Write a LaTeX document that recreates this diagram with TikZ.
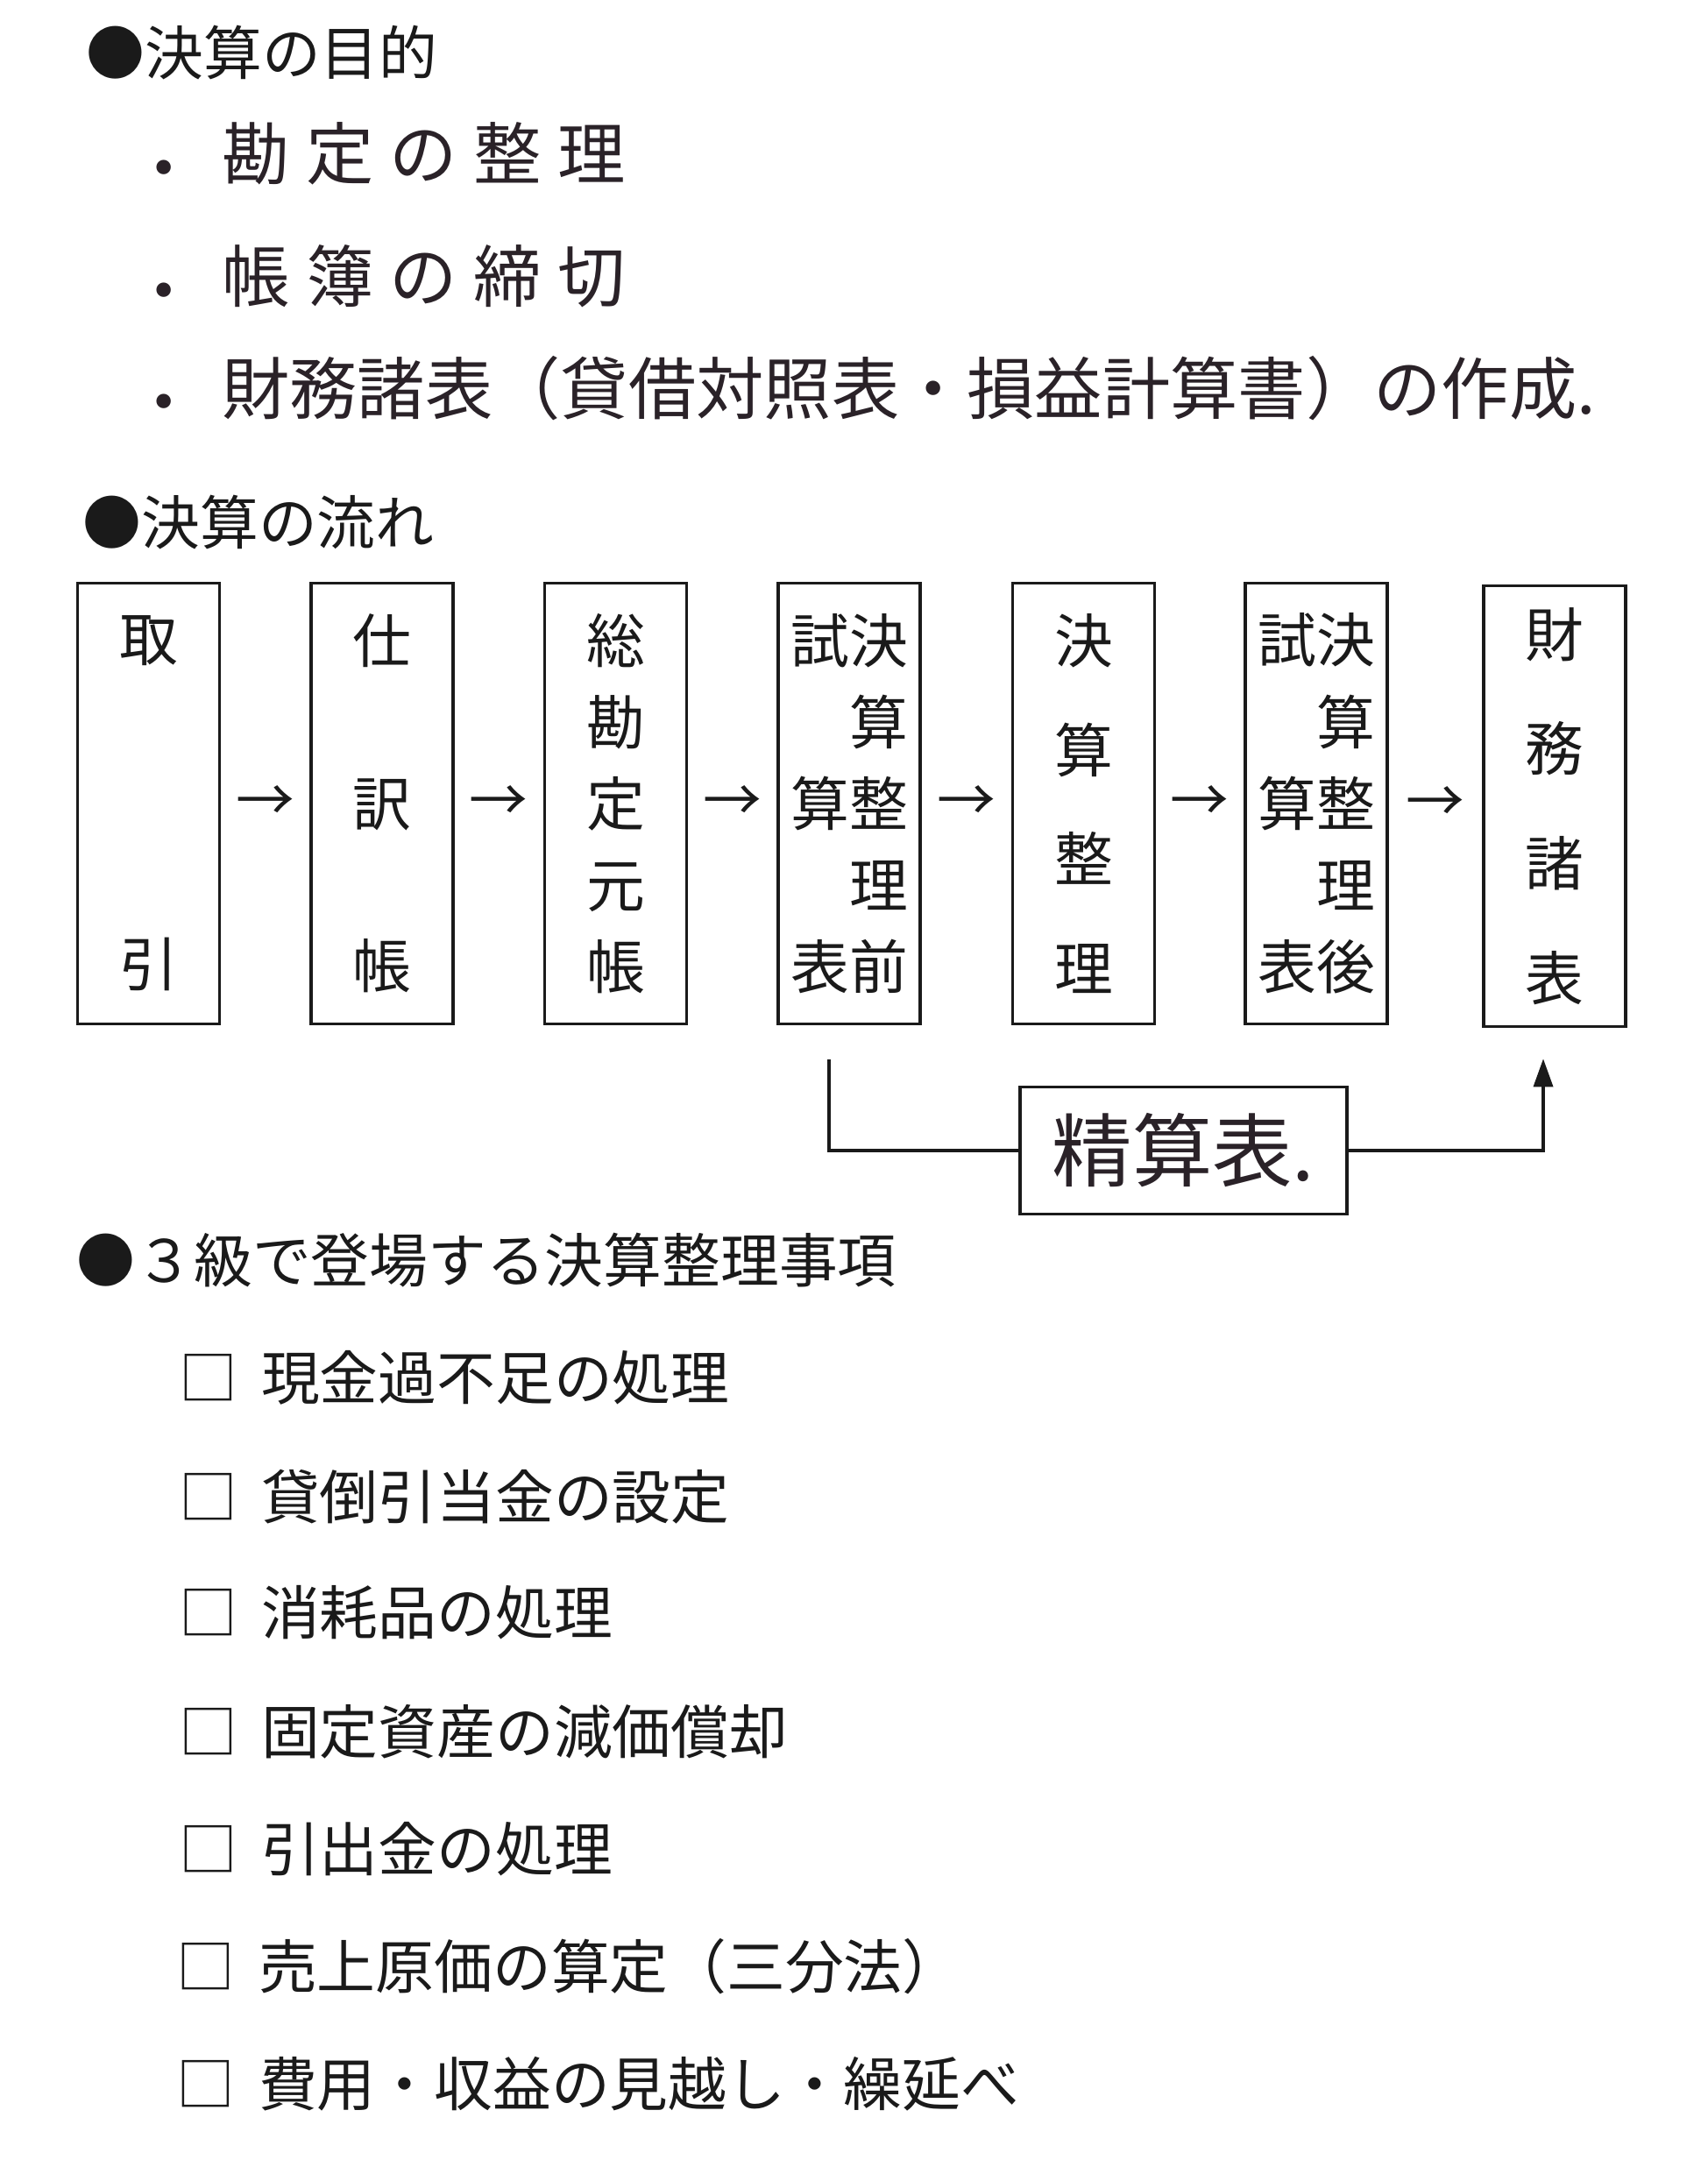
\documentclass[tikz,border=0pt]{standalone}
\usepackage{fontspec}
\setmainfont{Noto Sans CJK JP}
\usetikzlibrary{arrows.meta, positioning, calc}
\definecolor{cink}{HTML}{1A1A1A}
\definecolor{cpen}{HTML}{2A2228}
\newcommand{\handgap}{\hspace{0.24em}}
\newcommand{\handdot}{\raisebox{-0.2em}{・}\hspace{0.35em}}
\tikzset{
  every picture/.style={line width=1pt, color=cink},
  head/.style={anchor=west, inner sep=0pt, font=\fontsize{19pt}{26.5pt}\selectfont},
  hand/.style={anchor=west, inner sep=0pt, text=cpen, font=\fontsize{22pt}{26pt}\selectfont},
  flowbox/.style={draw, minimum width=1.62cm, minimum height=5.03cm, inner sep=0pt, align=#1,
                  font=\fontsize{19pt}{26.5pt}\selectfont},
  flowbox/.default=center,
  flowarrow/.style={font=\fontsize{19pt}{26.5pt}\selectfont, inner sep=0pt},
  sumbox/.style={draw, minimum width=3.73cm, minimum height=1.45cm, inner sep=0pt, text=cpen,
                 font=\fontsize{26pt}{30pt}\selectfont},
  link/.style={line width=1pt},
  linkarrow/.style={link, -{Triangle[length=3.2mm, width=2.2mm]}},
}

\begin{document}
\begin{tikzpicture}
  \useasboundingbox (0,0) rectangle (19.49,-24.73);

  % purpose
  \node[head] (purpose) at (0.97,-0.60) {●決算の目的};
  \node[hand] (p1) at (1.47,-1.80) {\handdot 勘\handgap 定\handgap の\handgap 整\handgap 理};
  \node[hand] (p2) at (1.47,-3.20) {\handdot 帳\handgap 簿\handgap の\handgap 締\handgap 切};
  \node[hand] (p3) at (1.47,-4.47) {\handdot 財務諸表（貸借対照表・損益計算書）の作成.};

  % flow
  \node[head] (flow) at (0.93,-5.96) {●決算の流れ};
  \node[flowbox] (b1) at (1.695,-9.17) {取\\[2.78cm]引};
  \node[flowbox] (b2) at (4.36,-9.17) {仕\\[0.925cm]訳\\[0.925cm]帳};
  \node[flowbox] (b3) at (7.025,-9.17) {総\\勘\\定\\元\\帳};
  \node[flowbox=right] (b4) at (9.69,-9.17) {試決\\算\\算整\\理\\表前};
  \node[flowbox] (b5) at (12.365,-9.17) {決\\[0.317cm]算\\[0.317cm]整\\[0.317cm]理};
  \node[flowbox=right] (b6) at (15.02,-9.17) {試決\\算\\算整\\理\\表後};
  \node[flowbox] (b7) at (17.74,-9.20) {財\\[0.377cm]務\\[0.377cm]諸\\[0.377cm]表};
  \path (b1) -- node[flowarrow] {→} (b2);
  \path (b2) -- node[flowarrow] {→} (b3);
  \path (b3) -- node[flowarrow] {→} (b4);
  \path (b4) -- node[flowarrow] {→} (b5);
  \path (b5) -- node[flowarrow] {→} (b6);
  \path (b6) -- node[flowarrow] {→} (b7);

  % worksheet shortcut
  \node[sumbox] (seisan) at (13.505,-13.13) {精算表.};
  \coordinate (c4) at ($(b4.south)+(-0.23,-0.39)$);
  \coordinate (c7) at ($(b7.south)+(-0.13,-0.35)$);
  \draw[link] (c4) |- (seisan.west);
  \draw[linkarrow] (seisan.east) -| (c7);

  % adjustments
  \node[head] (items) at (0.86,-14.38) {●３級で登場する決算整理事項};
  \node[head] (k1) at (2.03,-15.72) {□\hspace{0.4em}現金過不足の処理};
  \node[head] (k2) at (2.03,-17.08) {□\hspace{0.4em}貸倒引当金の設定};
  \node[head] (k3) at (2.03,-18.40) {□\hspace{0.4em}消耗品の処理};
  \node[head] (k4) at (2.03,-19.76) {□\hspace{0.4em}固定資産の減価償却};
  \node[head] (k5) at (2.03,-21.10) {□\hspace{0.4em}引出金の処理};
  \node[head] (k6) at (2.00,-22.44) {□\hspace{0.4em}売上原価の算定（三分法）};
  \node[head] (k7) at (2.00,-23.78) {□\hspace{0.4em}費用・収益の見越し・繰延べ};
\end{tikzpicture}
\end{document}
